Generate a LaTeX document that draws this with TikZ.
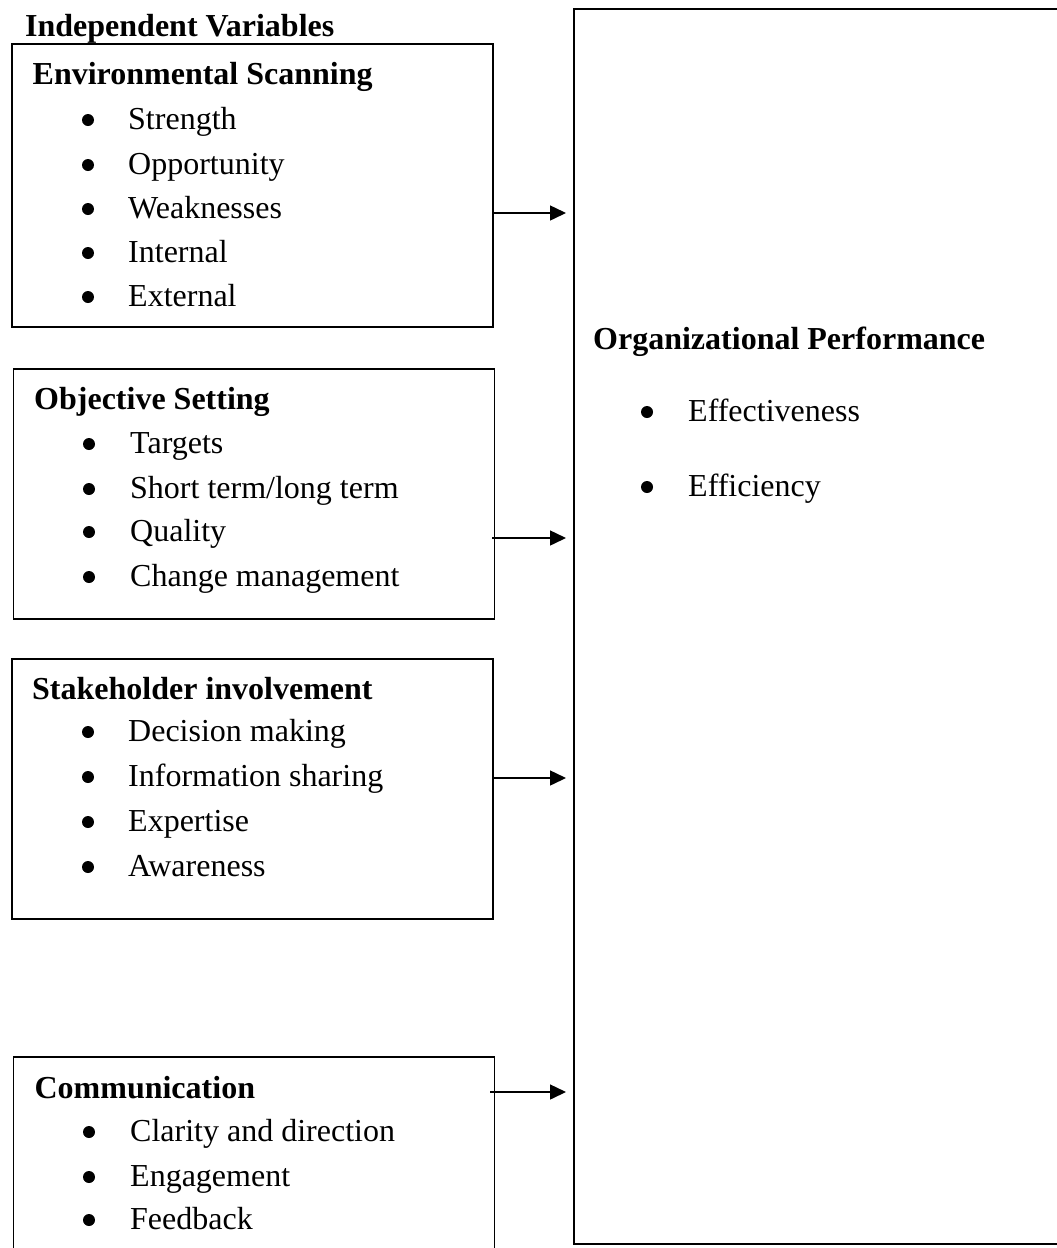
\documentclass[tikz,border=0pt]{standalone}
\usepackage{fontspec}
\setmainfont{Liberation Serif}
\usetikzlibrary{arrows.meta}
\tikzset{
  x=1pt, y=-1pt,
  txt/.style={anchor=base west, inner sep=0pt, font=\fontsize{32}{38}\selectfont},
  hd/.style={anchor=base west, inner sep=0pt, font=\fontsize{32}{38}\selectfont\bfseries},
  bul/.style={circle, fill=black, draw=none, inner sep=0pt, minimum size=12pt},
  box/.style={draw=black, line width=1.8pt, anchor=north west, inner sep=0pt},
  arr/.style={line width=1.5pt, -{Triangle[length=16pt,width=15pt]}, shorten >=7pt}
}
\begin{document}
\begin{tikzpicture}
\useasboundingbox (0,0) rectangle (1057,1248);
\clip (0,0) rectangle (1057,1248);
% title
\node[hd] (title) at (25,36) {Independent Variables};
% boxes
\node[box, minimum width=481pt, minimum height=283pt] (es) at (10.7,43) {};
\node[box, minimum width=481pt, minimum height=250pt] (os) at (12.6,368) {};
\node[box, minimum width=481pt, minimum height=260pt] (si) at (11,658) {};
\node[box, minimum width=481pt, minimum height=210pt] (cm) at (12.6,1056) {};
\node[box, minimum width=500pt, minimum height=1235pt] (op) at (573,8) {};
% Environmental Scanning
\node[hd] (esh) at (32.5,84) {Environmental Scanning};
\foreach \t/\y [count=\i] in {Strength/129, Opportunity/174, Weaknesses/218, Internal/262, External/306}{
  \node[bul] (esb\i) at (88,\y-9) {};
  \node[txt] (est\i) at (128,\y) {\t};
}
% Objective Setting
\node[hd] (osh) at (34,409) {Objective Setting};
\foreach \t/\y [count=\i] in {Targets/453, {Short term{/}long term}/498, Quality/541, Change management/586}{
  \node[bul] (osb\i) at (89,\y-9) {};
  \node[txt] (ost\i) at (130,\y) {\t};
}
% Stakeholder involvement
\node[hd] (sih) at (32,699) {Stakeholder involvement};
\foreach \t/\y [count=\i] in {Decision making/741, Information sharing/786, Expertise/831, Awareness/876}{
  \node[bul] (sib\i) at (88,\y-9) {};
  \node[txt] (sit\i) at (128,\y) {\t};
}
% Communication
\node[hd] (cmh) at (34.4,1098) {Communication};
\foreach \t/\y [count=\i] in {Clarity and direction/1141, Engagement/1186, Feedback/1229}{
  \node[bul] (cmb\i) at (89,\y-9) {};
  \node[txt] (cmt\i) at (130,\y) {\t};
}
% Organizational Performance
\node[hd] (oph) at (593,349) {Organizational Performance};
\node[bul] (opb1) at (647,412) {};
\node[txt] (opt1) at (688,421) {Effectiveness};
\node[bul] (opb2) at (647,487) {};
\node[txt] (opt2) at (688,496) {Efficiency};
% arrows
\coordinate (y1) at (0,213);
\coordinate (y2) at (0,538);
\coordinate (y3) at (0,778);
\coordinate (y4) at (0,1092);
\draw[arr] (es.east |- y1) -- (op.west |- y1);
\draw[arr] ([xshift=-3pt]os.east |- y2) -- (op.west |- y2);
\draw[arr] (si.east |- y3) -- (op.west |- y3);
\draw[arr] ([xshift=-5pt]cm.east |- y4) -- (op.west |- y4);
\end{tikzpicture}
\end{document}
